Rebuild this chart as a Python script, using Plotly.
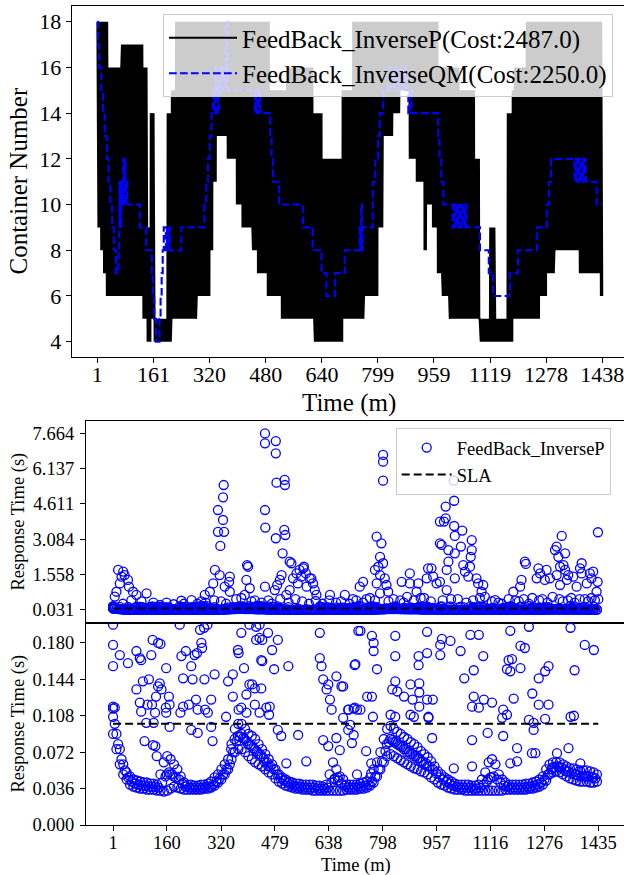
import numpy as np
import plotly.graph_objects as go

W, H = 624, 875
FONT = "Liberation Serif"

# ---------------- top panel data ----------------
# FeedBack_InverseP oscillates every minute between a lower and an upper level.
P_SEG_T = [1, 10, 18, 27, 30, 70, 130, 144, 153, 164, 201, 212, 224, 284, 321, 329, 340, 372, 397, 414,
           443, 457, 486, 491, 526, 540, 614, 620, 640, 699, 728, 760, 800, 813, 842, 861, 890, 910, 932, 940,
           955, 970, 984, 1004, 1030, 1075, 1089, 1112, 1118, 1132, 1169, 1183, 1189, 1223, 1260, 1280, 1302, 1374, 1432]
P_SEG_LO = [9, 8, 7, 6, 6, 6, 5, 4, 5, 4, 4, 5, 5, 6, 8, 11, 13, 12, 10, 9,
            8, 7, 6, 6, 5, 5, 5, 4, 4, 5, 5, 6, 9, 13, 14, 15, 12, 11, 8, 10,
            9, 7, 6, 5, 5, 5, 4, 4, 4, 4, 4, 5, 5, 5, 6, 7, 8, 7, 6]
P_SEG_HI = [18, 18, 18, 18, 16, 17, 16, 9, 14, 5, 14, 15, 18, 18, 18, 18, 18, 18, 18, 18,
            18, 18, 18, 15, 15, 16, 14, 14, 12, 15, 18, 18, 18, 18, 18, 18, 18, 18, 18, 18,
            18, 16, 16, 16, 15, 12, 5, 5, 9, 5, 14, 15, 16, 18, 18, 18, 18, 18, 18]
P_LAST_T = 1438

# FeedBack_InverseQM: step changes (start minute, container number)
QM_T = [1, 3, 6, 12, 17, 22, 28, 33, 38, 43, 48, 54,
        61, 63, 64, 65, 66, 67, 68, 69, 71, 73, 75, 77, 79, 81, 83, 86,
        122, 140, 156, 159, 163, 168, 178, 181, 184, 187, 190, 196, 199, 202, 205, 207,
        240, 306, 311, 316, 321, 326, 330, 334, 337, 341, 344, 347, 350, 356, 362, 366, 372,
        449, 453, 457, 461, 465, 493, 497, 501, 518, 586, 614, 639, 653, 677, 705,
        748, 750, 752, 754, 756, 785, 792, 800, 805, 814, 828, 836, 845, 852, 862, 870, 876, 881, 886, 890, 895,
        971, 975, 980, 986, 1012, 1016, 1020, 1024, 1028, 1032, 1036, 1040, 1044, 1048, 1052,
        1090, 1115, 1127, 1175, 1198, 1252, 1280, 1286, 1292,
        1359, 1363, 1367, 1371, 1375, 1379, 1383, 1387, 1391, 1422, 1438]
QM_V = [18, 17, 16, 15, 14, 13, 12, 11, 10, 9, 8, 7,
        8, 9, 11, 9, 10, 11, 9, 10, 11, 10, 12, 11, 12, 10, 11, 10,
        9, 8, 7, 6, 5, 4, 5, 6, 7, 8, 9, 8, 9, 8, 9, 8,
        9, 10, 11, 12, 13, 14, 15, 14, 16, 15, 14, 16, 15, 16, 15, 18, 15,
        14, 15, 14, 15, 14, 13, 12, 11, 10, 9, 8, 7, 6, 7, 8,
        9, 8, 10, 8, 9, 11, 12, 13, 14, 15, 16, 15, 16, 15, 16, 15, 16, 15, 14, 15, 14,
        13, 12, 11, 10, 9, 10, 9, 10, 9, 10, 9, 10, 9, 10, 9,
        8, 7, 6, 7, 8, 9, 10, 11, 12,
        11, 12, 11, 12, 11, 12, 11, 12, 11, 10, 10]

TOP_XTICKS = [1, 161, 320, 480, 640, 799, 959, 1119, 1278, 1438]
TOP_YTICKS = [4, 6, 8, 10, 12, 14, 16, 18]

# ---------------- response time data ----------------
# dense band (every 10 minutes): lower edge, upper edge, and centre of the cluster
BAND_T = list(range(1, 1432, 10))
BAND_LO = [0.090, 0.075, 0.060, 0.050, 0.045, 0.040, 0.038, 0.037, 0.036, 0.036, 0.035, 0.035, 0.035, 0.034, 0.034, 0.033,
           0.034, 0.036, 0.038, 0.037, 0.036, 0.035, 0.035, 0.035, 0.035, 0.035, 0.035, 0.036, 0.036, 0.037, 0.039, 0.042,
           0.045, 0.050, 0.055, 0.065, 0.072, 0.075, 0.075, 0.072, 0.068, 0.065, 0.062, 0.060, 0.058, 0.055, 0.052, 0.050,
           0.046, 0.043, 0.041, 0.039, 0.038, 0.037, 0.036, 0.036, 0.035, 0.035, 0.035, 0.034, 0.034, 0.034, 0.034, 0.034,
           0.034, 0.034, 0.034, 0.034, 0.034, 0.035, 0.035, 0.035, 0.035, 0.036, 0.036, 0.037, 0.039, 0.042, 0.048, 0.055,
           0.062, 0.068, 0.070, 0.068, 0.066, 0.064, 0.062, 0.060, 0.058, 0.056, 0.055, 0.053, 0.052, 0.050, 0.047, 0.045,
           0.042, 0.040, 0.039, 0.037, 0.036, 0.035, 0.035, 0.035, 0.034, 0.034, 0.034, 0.034, 0.034, 0.034, 0.034, 0.034,
           0.034, 0.034, 0.034, 0.034, 0.035, 0.035, 0.035, 0.035, 0.035, 0.035, 0.035, 0.036, 0.036, 0.037, 0.038, 0.040,
           0.044, 0.050, 0.052, 0.053, 0.052, 0.050, 0.048, 0.046, 0.045, 0.044, 0.043, 0.043, 0.043, 0.042, 0.042, 0.043]
BAND_HI = [0.115, 0.090, 0.075, 0.060, 0.052, 0.048, 0.045, 0.044, 0.043, 0.042, 0.042, 0.041, 0.041, 0.040, 0.050, 0.062,
           0.068, 0.065, 0.060, 0.055, 0.048, 0.042, 0.040, 0.040, 0.039, 0.039, 0.040, 0.040, 0.041, 0.043, 0.047, 0.050,
           0.055, 0.060, 0.065, 0.080, 0.095, 0.100, 0.100, 0.095, 0.090, 0.088, 0.085, 0.080, 0.075, 0.070, 0.065, 0.060,
           0.055, 0.050, 0.047, 0.045, 0.043, 0.042, 0.041, 0.041, 0.040, 0.040, 0.040, 0.040, 0.039, 0.039, 0.038, 0.040,
           0.050, 0.062, 0.055, 0.048, 0.045, 0.040, 0.040, 0.040, 0.040, 0.041, 0.042, 0.043, 0.047, 0.055, 0.062, 0.072,
           0.085, 0.095, 0.098, 0.095, 0.092, 0.090, 0.087, 0.085, 0.082, 0.080, 0.077, 0.073, 0.070, 0.067, 0.063, 0.058,
           0.053, 0.050, 0.047, 0.045, 0.043, 0.041, 0.040, 0.040, 0.040, 0.040, 0.039, 0.039, 0.040, 0.045, 0.052, 0.062,
           0.065, 0.060, 0.050, 0.045, 0.042, 0.040, 0.040, 0.040, 0.040, 0.040, 0.041, 0.041, 0.042, 0.043, 0.045, 0.048,
           0.055, 0.060, 0.062, 0.062, 0.062, 0.060, 0.058, 0.056, 0.056, 0.055, 0.054, 0.054, 0.054, 0.053, 0.052, 0.050]
BAND_MID_T = list(range(6, 1427, 10))
BAND_MID = [0.100, 0.080, 0.065, 0.054, 0.047, 0.043, 0.041, 0.040, 0.039, 0.039,
            0.038, 0.038, 0.038, 0.037, 0.042, 0.048, 0.052, 0.050, 0.047, 0.045,
            0.041, 0.038, 0.037, 0.037, 0.037, 0.037, 0.037, 0.038, 0.038, 0.040,
            0.043, 0.046, 0.050, 0.055, 0.060, 0.072, 0.083, 0.087, 0.086, 0.083,
            0.079, 0.076, 0.073, 0.070, 0.066, 0.062, 0.058, 0.055, 0.050, 0.046,
            0.044, 0.042, 0.040, 0.039, 0.038, 0.038, 0.037, 0.037, 0.037, 0.037,
            0.036, 0.036, 0.036, 0.037, 0.042, 0.046, 0.044, 0.041, 0.039, 0.037,
            0.037, 0.037, 0.038, 0.038, 0.039, 0.040, 0.043, 0.048, 0.055, 0.063,
            0.073, 0.082, 0.084, 0.082, 0.079, 0.077, 0.075, 0.072, 0.070, 0.068,
            0.066, 0.063, 0.061, 0.058, 0.055, 0.051, 0.047, 0.045, 0.043, 0.041,
            0.039, 0.038, 0.037, 0.037, 0.037, 0.037, 0.036, 0.036, 0.037, 0.040,
            0.043, 0.047, 0.048, 0.045, 0.042, 0.039, 0.038, 0.037, 0.037, 0.037,
            0.037, 0.037, 0.038, 0.038, 0.039, 0.040, 0.042, 0.045, 0.050, 0.055,
            0.057, 0.058, 0.057, 0.055, 0.053, 0.051, 0.050, 0.049, 0.048, 0.048,
            0.048, 0.047, 0.046]

# large response-time spikes (seconds)
SPIKE_T = [16, 31, 35, 26, 21, 45, 48, 60, 70, 100, 11, 6,
           328, 326, 311, 311, 329, 326, 318, 302, 316, 346, 344, 297, 331, 346, 287, 272,
           397, 400, 395, 405, 390,
           450, 450, 482, 482, 484, 508, 509, 450, 451, 507, 510, 482, 502, 523, 528, 450, 499, 494, 486, 479,
           533, 543, 565, 552, 557, 547, 571, 582, 592, 597, 573, 523, 513, 602,
           563, 587, 642, 686, 730, 740, 780, 794, 790, 785, 799, 775, 790, 804, 780, 809, 799, 799, 799, 814, 790,
           854, 878, 878, 903, 898, 932, 942, 928, 947, 957, 967, 967, 972, 984, 984, 979, 1009, 1009, 1011, 1033,
           1061, 1061, 1058, 1029, 992, 992, 987, 1011, 1036, 1041, 1056, 1051, 1075, 1080, 1095, 1090, 1011, 967,
           987, 1130, 1008,
           1184, 1208, 1218, 1221, 1204, 1258, 1263, 1282, 1277, 1253, 1292, 1312, 1337, 1346, 1307, 1312, 1327,
           1317, 1337, 1332, 1322, 1342, 1386, 1381, 1386, 1410, 1420, 1433, 1434, 1371, 1401, 1430, 1415, 1361, 1322]
SPIKE_V = [1.76, 1.69, 1.54, 1.47, 1.18, 1.33, 1.04, 0.82, 0.68, 0.75, 0.82, 0.61,
           5.43, 4.90, 4.35, 3.41, 3.41, 3.92, 2.80, 1.76, 1.54, 1.47, 1.25, 1.18, 1.04, 0.82, 0.82, 0.68,
           1.97, 1.90, 1.33, 0.97, 0.68,
           7.66, 7.23, 7.33, 6.80, 5.53, 5.65, 5.43, 4.35, 3.59, 3.49, 3.27, 3.13, 2.48, 2.12, 2.05, 1.04, 1.54, 1.33, 1.11, 0.89,
           1.40, 1.61, 1.90, 1.76, 1.47, 1.18, 1.61, 1.40, 1.18, 0.89, 1.04, 0.89, 0.68, 0.68,
           1.83, 1.40, 0.68, 0.68, 1.04, 1.25, 3.20, 2.91, 2.33, 1.90, 2.05, 1.76, 1.54, 1.40, 1.18, 1.11, 6.73, 6.44, 5.62, 0.82, 0.75,
           1.25, 1.61, 1.18, 1.18, 0.82, 1.83, 1.83, 1.40, 1.47, 1.18, 3.85, 2.91, 2.84, 4.50, 3.99, 3.85, 4.75, 3.66, 3.23, 3.46,
           3.05, 2.62, 2.33, 2.77, 2.62, 2.12, 1.76, 2.48, 1.97, 1.69, 1.90, 1.47, 1.40, 1.18, 1.11, 0.82, 1.40, 1.25,
           0.89, 0.46, 5.62,
           0.82, 1.33, 2.12, 2.02, 1.04, 1.83, 1.61, 1.76, 1.33, 1.40, 1.40, 1.54, 1.76, 1.54, 2.62, 2.77, 3.23,
           2.33, 2.48, 1.97, 1.90, 1.33, 2.05, 1.83, 1.61, 1.61, 1.69, 1.25, 3.39, 1.04, 1.18, 0.82, 1.40, 1.47, 1.11]

# small excursions just above the dense band (seconds)
LOW_T = [120, 159, 203, 233, 250, 262, 180, 140, 300, 365, 380, 420, 440, 540, 560, 620, 660, 700, 720, 750,
         830, 850, 870, 920, 1000, 1100, 1120, 1150, 1170, 1190, 1240, 1270, 1300, 1355, 1395, 1425,
         30, 55, 85, 210, 275, 320, 335, 410, 460, 470, 495, 520, 580, 600, 640, 675, 710, 740, 760, 775,
         815, 860, 890, 910, 940, 975, 1020, 1045, 1065, 1085, 1140, 1200, 1215, 1230, 1260, 1285, 1320, 1330,
         1345, 1365, 1380, 1405, 1415, 1435]
LOW_V = [0.35, 0.35, 0.43, 0.46, 0.30, 0.40, 0.28, 0.25, 0.45, 0.50, 0.55, 0.45, 0.35, 0.50, 0.40, 0.30, 0.35, 0.30, 0.45, 0.50,
         0.50, 0.45, 0.60, 0.55, 0.50, 0.60, 0.40, 0.30, 0.50, 0.45, 0.55, 0.50, 0.60, 0.55, 0.50, 0.45,
         0.30, 0.45, 0.40, 0.30, 0.35, 0.40, 0.30, 0.40, 0.45, 0.30, 0.50, 0.35, 0.30, 0.42, 0.45, 0.40, 0.50, 0.35, 0.55, 0.45,
         0.40, 0.35, 0.45, 0.55, 0.40, 0.45, 0.50, 0.35, 0.45, 0.55, 0.35, 0.40, 0.50, 0.30, 0.45, 0.35, 0.50, 0.40,
         0.45, 0.35, 0.50, 0.40, 0.55, 0.50]

# points between the band and 0.2 s (seconds)
MID_T = [1, 1, 1, 21, 45, 70, 80, 84, 114, 118, 134, 141, 158,
         70, 89, 107, 80, 84, 103, 116, 128, 125, 139, 134, 144, 157, 158, 166, 99, 121, 94, 119, 126, 130,
         1, 6, 1,
         203, 216, 232, 249, 242, 262, 264, 258, 270, 280, 208, 236, 271, 301, 198,
         208, 225, 246, 251, 273, 291, 281, 168, 200, 232, 251, 291, 295, 168,
         341, 355, 370, 372, 380, 388, 395, 404, 412, 420, 439, 424, 434, 442, 439, 442, 459, 471, 488, 519, 477,
         404, 424, 434, 335, 355, 372, 380, 395, 420, 434, 454, 464, 462, 488, 498, 513, 548, 572,
         612, 612, 617, 622, 632, 637, 642, 647, 661, 676, 681, 696, 715, 726, 715, 622, 637, 661, 681, 696, 671,
         732, 766, 771, 771, 835, 835, 929, 973, 968, 998, 968, 904, 929, 904, 1028, 1057, 1082, 1095, 1175,
         1230, 1205, 1218, 1353, 1395, 1422, 1170, 1180, 1259, 1278, 1288, 1365, 1205, 1175, 1165, 717, 781, 1067, 1039,
         835, 880, 906, 906, 929, 946, 826, 841, 861, 886, 906, 933, 752, 766, 722, 712, 732, 769, 697,
         1067, 1097, 1121, 1062, 1082, 1185, 1154, 1240, 1259, 1288, 1353, 1363, 1230, 1244, 1151, 1165, 1278,
         1062, 1108, 1154, 1195, 1244, 1195, 1239, 1249, 1313, 1347, 1382, 1175, 1008, 1062, 944, 712, 707, 749,
         764, 764, 722, 821, 835, 880, 890, 933, 702,
         350, 360, 370, 380, 390, 400, 410, 420, 430, 440, 450, 460, 810, 820, 830, 840, 850, 860, 870, 880,
         890, 900, 910, 920, 930, 160, 170, 180, 1120, 1110, 655, 665, 1300, 1320, 1340, 1370, 1400, 1420]
MID_V = [0.198, 0.178, 0.157, 0.168, 0.160, 0.172, 0.165, 0.163, 0.168, 0.183, 0.180, 0.179, 0.155,
         0.134, 0.142, 0.144, 0.121, 0.112, 0.119, 0.119, 0.127, 0.111, 0.140, 0.137, 0.134, 0.116, 0.111, 0.127, 0.101, 0.101, 0.083, 0.079, 0.078, 0.068,
         0.117, 0.116, 0.107,
         0.167, 0.172, 0.157, 0.170, 0.168, 0.180, 0.175, 0.193, 0.195, 0.198, 0.145, 0.144, 0.144, 0.149, 0.198,
         0.117, 0.119, 0.124, 0.114, 0.114, 0.124, 0.111, 0.119, 0.111, 0.094, 0.091, 0.097, 0.083, 0.097,
         0.142, 0.149, 0.173, 0.170, 0.190, 0.155, 0.129, 0.139, 0.139, 0.135, 0.135, 0.183, 0.185, 0.183, 0.163, 0.162, 0.190, 0.173, 0.183, 0.157, 0.154,
         0.198, 0.196, 0.198, 0.107, 0.127, 0.114, 0.116, 0.111, 0.119, 0.111, 0.116, 0.117, 0.109, 0.094, 0.088, 0.061, 0.089, 0.063,
         0.190, 0.165, 0.157, 0.144, 0.134, 0.139, 0.124, 0.114, 0.147, 0.137, 0.137, 0.114, 0.116, 0.192, 0.158, 0.084, 0.078, 0.086, 0.106, 0.094, 0.074,
         0.192, 0.187, 0.180, 0.172, 0.187, 0.167, 0.191, 0.184, 0.178, 0.182, 0.168, 0.167, 0.170, 0.158, 0.172, 0.188, 0.188, 0.167, 0.192,
         0.196, 0.177, 0.175, 0.195, 0.178, 0.173, 0.163, 0.164, 0.145, 0.152, 0.157, 0.153, 0.155, 0.152, 0.154, 0.159, 0.154, 0.153, 0.145,
         0.142, 0.139, 0.140, 0.131, 0.124, 0.124, 0.134, 0.132, 0.127, 0.124, 0.117, 0.106, 0.127, 0.127, 0.114, 0.115, 0.114, 0.107, 0.114,
         0.127, 0.124, 0.121, 0.117, 0.116, 0.125, 0.114, 0.130, 0.119, 0.119, 0.107, 0.108, 0.104, 0.101, 0.106, 0.109, 0.105,
         0.084, 0.091, 0.088, 0.076, 0.094, 0.063, 0.071, 0.071, 0.071, 0.076, 0.061, 0.061, 0.056, 0.058, 0.086, 0.089, 0.081, 0.073,
         0.061, 0.051, 0.050, 0.109, 0.107, 0.109, 0.107, 0.107, 0.099,
         0.075, 0.085, 0.088, 0.090, 0.085, 0.080, 0.078, 0.075, 0.070, 0.068, 0.062, 0.058, 0.080, 0.085, 0.082, 0.080, 0.078, 0.075, 0.072, 0.070,
         0.068, 0.066, 0.063, 0.060, 0.058, 0.050, 0.050, 0.048, 0.047, 0.045, 0.045, 0.047, 0.057, 0.057, 0.053, 0.050, 0.048, 0.047]

SLA = 0.1
SLA_SPAN = [1, 1435]

MID_YTICKS = [0.031, 1.558, 3.084, 4.611, 6.137, 7.664]
BOT_YTICKS = [0.0, 0.036, 0.072, 0.108, 0.144, 0.180]
BOT_XTICKS = [1, 160, 320, 479, 638, 798, 957, 1116, 1276, 1435]

# ---------------- build series ----------------
t_all = np.arange(1, P_LAST_T + 1)
seg = np.searchsorted(np.array(P_SEG_T), t_all, side="right") - 1
p_lo = np.array(P_SEG_LO)[seg]
p_hi = np.array(P_SEG_HI)[seg]
p_val = np.where(t_all % 2 == 1, p_hi, p_lo)

rt_t = BAND_T + BAND_T + BAND_MID_T + SPIKE_T + LOW_T + MID_T
rt_v = BAND_LO + BAND_HI + BAND_MID + SPIKE_V + LOW_V + MID_V

BLUE = "#0000ff"


def xd(px):
    return px / W


def yd(py):
    return 1 - py / H


fig = go.Figure()

fig.add_trace(go.Scatter(x=t_all, y=p_val, mode="lines", line=dict(color="black", width=2),
                         name="FeedBack_InverseP(Cost:2487.0)", xaxis="x", yaxis="y", legend="legend"))
fig.add_trace(go.Scatter(x=QM_T, y=QM_V, mode="lines", line=dict(color=BLUE, width=2.1, dash="7.7px,3.3px", shape="hv"),
                         name="FeedBack_InverseQM(Cost:2250.0)", xaxis="x", yaxis="y", legend="legend"))

marker = dict(symbol="circle-open", size=9, color=BLUE, line=dict(color=BLUE, width=1.3))
fig.add_trace(go.Scatter(x=rt_t, y=rt_v, mode="markers", marker=marker, name="FeedBack_InverseP",
                         xaxis="x2", yaxis="y2", legend="legend2"))
fig.add_trace(go.Scatter(x=SLA_SPAN, y=[SLA, SLA], mode="lines", line=dict(color="black", width=2, dash="8px,4px"),
                         name="SLA", xaxis="x2", yaxis="y2", legend="legend2"))
fig.add_trace(go.Scatter(x=rt_t, y=rt_v, mode="markers", marker=marker, showlegend=False,
                         xaxis="x3", yaxis="y3"))
fig.add_trace(go.Scatter(x=SLA_SPAN, y=[SLA, SLA], mode="lines", line=dict(color="black", width=2, dash="8px,4px"),
                         showlegend=False, xaxis="x3", yaxis="y3"))

axis_common = dict(showgrid=False, zeroline=False, showline=True, linecolor="black", linewidth=1.2,
                   ticks="outside", ticklen=5, tickwidth=1.2, tickcolor="black", automargin=False,
                   ticklabeloverflow="allow")

BOT_RANGE = [-79, 1511]

fig.update_layout(
    width=W, height=H, margin=dict(l=0, r=0, t=0, b=0),
    paper_bgcolor="white", plot_bgcolor="white",
    font=dict(family=FONT, color="black"),
    xaxis=dict(axis_common, domain=[xd(71.7), 1], range=[-72, 1499.8], anchor="y", mirror=True,
               tickvals=TOP_XTICKS, ticktext=[str(v) for v in TOP_XTICKS], tickfont=dict(size=22),
               ticklabelstandoff=-7),
    yaxis=dict(axis_common, domain=[yd(356.7), yd(6)], range=[3.344, 18.687], anchor="x",
               tickvals=TOP_YTICKS, tickfont=dict(size=22)),
    xaxis2=dict(axis_common, domain=[xd(86), 1], range=BOT_RANGE, anchor="y2", mirror=True,
                showticklabels=False, ticks=""),
    yaxis2=dict(axis_common, domain=[yd(622.7), yd(421)], range=[-0.518, 8.196], anchor="x2",
                tickvals=MID_YTICKS, ticktext=["%.3f" % v for v in MID_YTICKS], tickfont=dict(size=18.5),
                ticklabelstandoff=2),
    xaxis3=dict(axis_common, domain=[xd(86), 1], range=BOT_RANGE, anchor="y3", mirror=True,
                tickvals=BOT_XTICKS, ticktext=[str(v) for v in BOT_XTICKS], tickfont=dict(size=18.5),
                ticklabelstandoff=-4),
    yaxis3=dict(axis_common, domain=[yd(825), yd(622.7)], range=[0, 0.2], anchor="x3",
                tickvals=BOT_YTICKS, ticktext=["%.3f" % v for v in BOT_YTICKS], tickfont=dict(size=18.5),
                ticklabelstandoff=2),
    legend=dict(x=xd(163), y=yd(14), xanchor="left", yanchor="top", bgcolor="rgba(255,255,255,0.8)",
                bordercolor="#cccccc", borderwidth=1, font=dict(size=25, family=FONT), itemwidth=68),
    legend2=dict(x=xd(395.7), y=yd(428), xanchor="left", yanchor="top", bgcolor="rgba(255,255,255,0.8)",
                 bordercolor="#cccccc", borderwidth=1, font=dict(size=18.5, family=FONT), itemwidth=50),
    showlegend=True,
)

ann = [
    dict(text="Container Number", x=xd(17.5), y=yd(181), textangle=-90, font=dict(size=25)),
    dict(text="Time (m)", x=xd(349), y=yd(403), font=dict(size=25)),
    dict(text="Response Time (s)", x=xd(17.5), y=yd(522), textangle=-90, font=dict(size=18.5)),
    dict(text="Response Time (s)", x=xd(17.5), y=yd(724), textangle=-90, font=dict(size=18.5)),
    dict(text="Time (m)", x=xd(355.5), y=yd(865), font=dict(size=18.5)),
]
for a in ann:
    a.update(xref="paper", yref="paper", showarrow=False, xanchor="center", yanchor="middle")
    a["font"]["family"] = FONT
    a["font"]["color"] = "black"
fig.update_layout(annotations=ann)

fig.write_html("out.html", config={"displayModeBar": False},
               post_script="document.body.style.margin='0px';document.body.style.overflow='hidden';")
